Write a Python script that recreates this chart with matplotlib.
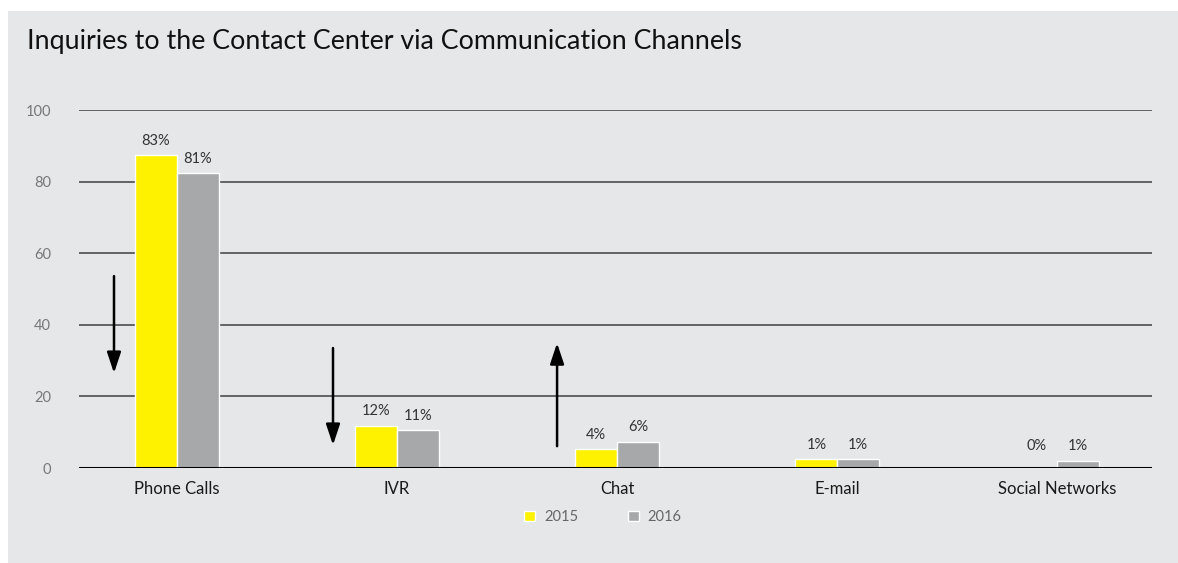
"""
    Contact center inquiries by channel, 2015 vs 2016
"""

import numpy as np
from matplotlib import pyplot as plt
from matplotlib.patches import Patch, Rectangle

categories = ["Phone Calls", "IVR", "Chat", "E-mail", "Social Networks"]
years = ["2015", "2016"]

# bar heights as drawn in the picture (they don't match the labels exactly)
heights_2015 = [87.4, 11.8, 5.2, 2.4, 0.0]
heights_2016 = [82.3, 10.5, 7.3, 2.4, 2.0]

labels_2015 = ["83%", "12%", "4%", "1%", "0%"]
labels_2016 = ["81%", "11%", "6%", "1%", "1%"]

y_ticks = [0, 20, 40, 60, 80, 100]

# trend arrows: (x in category units, y start, y end)
arrows = [(-0.286, 53.6, 26.5), (0.709, 33.5, 6.4), (1.727, 6.1, 34.9)]

BG = "#e6e7e8"
YELLOW = "#fff200"
GREY = "#a7a8aa"
W, H = 1178, 563

plt.rcParams['font.family'] = ['Lato', 'DejaVu Sans']

fig = plt.figure(figsize=(W / 100, H / 100), dpi=100)
fig.patch.set_facecolor("white")
fig.patches.append(Rectangle((8 / W, 0), 1 - 8 / W, 1 - 11 / H,
                             transform=fig.transFigure, facecolor=BG,
                             edgecolor="none", zorder=-5))

ax = fig.add_axes([79 / W, 1 - 468 / H, (1152 - 79) / W, (468 - 110) / H])
ax.set_facecolor("none")
ax.set_zorder(2)

x = np.arange(len(categories))
bw = 0.19
ax.bar(x - bw / 2, heights_2015, bw, color=YELLOW, edgecolor="white", linewidth=1, zorder=3)
ax.bar(x + bw / 2, heights_2016, bw, color=GREY, edgecolor="white", linewidth=1, zorder=3)

for xs, hs, ls in [(x - bw / 2, heights_2015, labels_2015), (x + bw / 2, heights_2016, labels_2016)]:
    for xi, h, lab in zip(xs, hs, ls):
        ax.annotate(lab, (xi, max(h, 2.0)), xytext=(0, 7.5), textcoords="offset points",
                    ha="center", va="baseline", fontsize=10.5, color="#333333")

for ax_x, y0, y1 in arrows:
    ax.annotate("", xy=(ax_x, y1), xytext=(ax_x, y0),
                arrowprops=dict(arrowstyle="-|>,head_width=0.3,head_length=0.9",
                                color="black", lw=1.8, mutation_scale=14,
                                shrinkA=0, shrinkB=0))

ax.set_xlim(-0.445, 4.43)
ax.set_ylim(0, 100)
ax.set_yticks(y_ticks)
ax.set_xticks(x)
ax.set_xticklabels(categories, fontsize=12, color="#1a1a1a")
ax.tick_params(axis="y", length=0, pad=20, labelsize=10.5, labelcolor="#77787b")
ax.tick_params(axis="x", length=0, pad=9)

for t in y_ticks[1:]:
    ax.axhline(t, color="#58595b", lw=1.3, zorder=1)
ax.axhline(0, color="black", lw=2.2, zorder=4)
for s in ax.spines.values():
    s.set_visible(False)

fig.text(27 / W, 1 - 42 / H, "Inquiries to the Contact Center via Communication Channels",
         fontsize=19.3, va="center", ha="left", color="#111111")

handles = [Patch(facecolor=YELLOW, edgecolor="white"), Patch(facecolor=GREY, edgecolor="white")]
fig.legend(handles, years, loc="center", bbox_to_anchor=(603 / W, 1 - 517 / H), ncol=2,
           frameon=False, fontsize=10.5, labelcolor="#666666", handlelength=0.75,
           handleheight=0.75, handletextpad=0.6, columnspacing=3.4)

plt.savefig("out.png", dpi=100)
